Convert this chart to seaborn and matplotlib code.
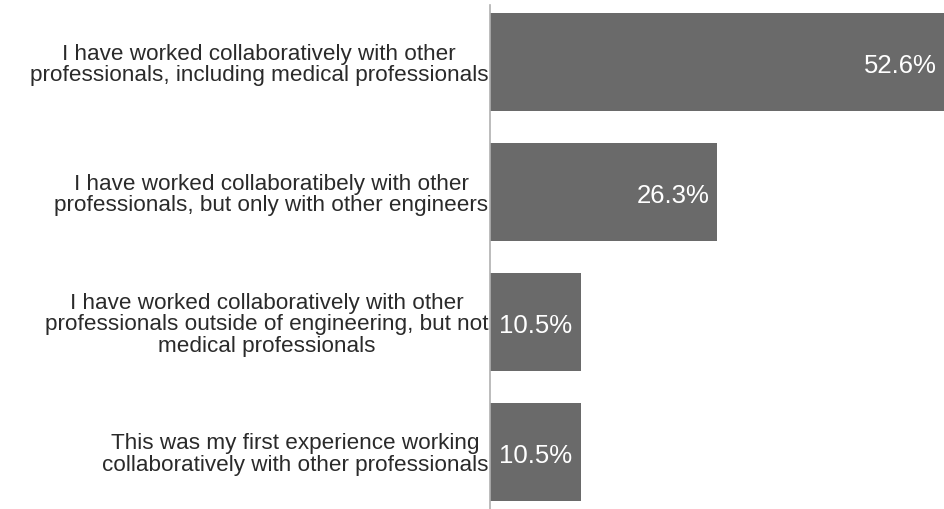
import matplotlib
matplotlib.use("Agg")
import matplotlib.pyplot as plt
import seaborn as sns
import pandas as pd

categories = [
    "I have worked collaboratively with other\nprofessionals, including medical professionals",
    "I have worked collaboratibely with other\nprofessionals, but only with other engineers",
    "I have worked collaboratively with other\nprofessionals outside of engineering, but not\nmedical professionals",
    "This was my first experience working\ncollaboratively with other professionals",
]
values = [52.6, 26.3, 10.5, 10.5]
value_labels = ["52.6%", "26.3%", "10.5%", "10.5%"]

sns.set_theme(style="white")
plt.rcParams["font.family"] = ["Liberation Sans", "DejaVu Sans"]

df = pd.DataFrame({"cat": categories, "val": values})

fig = plt.figure(figsize=(9.45, 5.09), dpi=100)
ax = fig.add_axes([490 / 945, 0.0, 1 - 490 / 945, 1 - 5 / 509])
sns.barplot(data=df, y="cat", x="val", orient="h", color="#6a6a6a",
            saturation=1, width=0.75, linewidth=0, ax=ax)
ax.set_xlim(0, 52.6)
ax.set_ylim(3.44, -0.44)
ax.set_xlabel("")
ax.set_ylabel("")
ax.set_xticks([])
for s in ["top", "right", "bottom"]:
    ax.spines[s].set_visible(False)
ax.spines["left"].set_color("#b0b0b0")
ax.spines["left"].set_linewidth(1.2)
ax.tick_params(axis="y", length=0, pad=1)
for lab in ax.get_yticklabels():
    lab.set_fontsize(16.2)
    lab.set_color("#2a2a2a")
    lab.set_multialignment("center")
    lab.set_linespacing(1.03)

for container in ax.containers:
    ax.bar_label(container, labels=value_labels, label_type="edge",
                 padding=-6, color="white", fontsize=18.5)
for t in ax.texts:
    t.set_horizontalalignment("right")
    t.xyann = (t.xyann[0], -3)

fig.savefig("out.png", dpi=100)
